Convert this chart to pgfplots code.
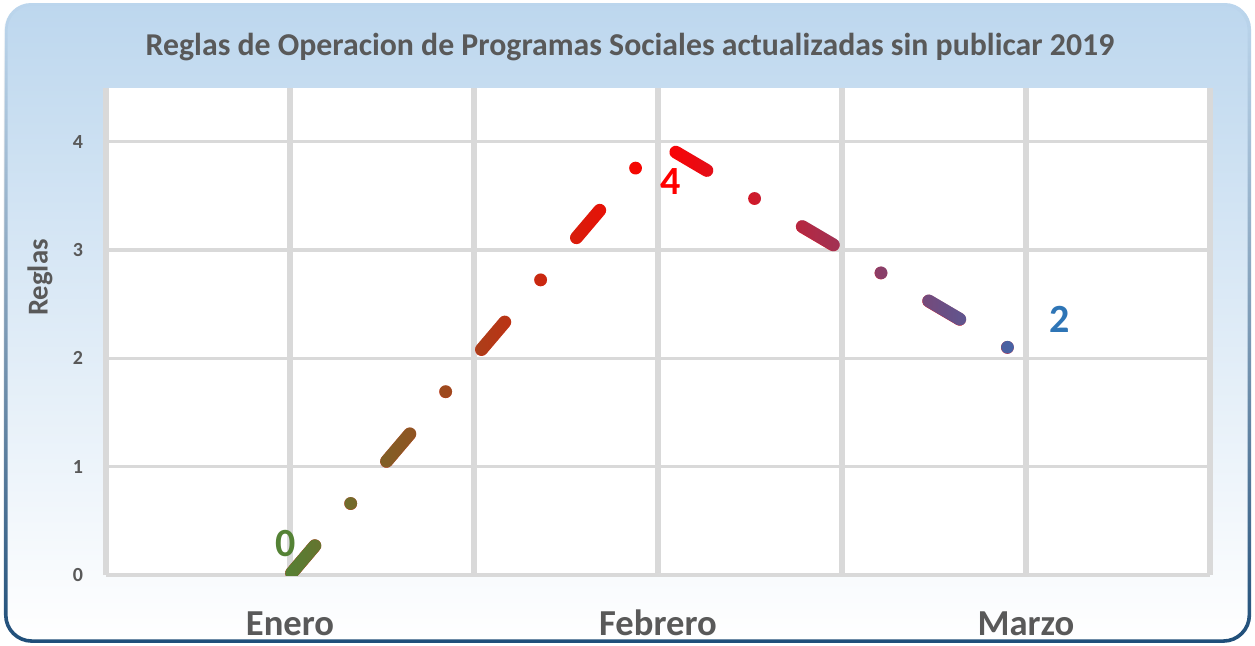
\documentclass[border=0pt]{standalone}
\usepackage{fontspec}
\setmainfont{Carlito}
\usepackage{pgfplots}
\pgfplotsset{compat=1.18}
\usetikzlibrary{fadings}

\definecolor{txt}{HTML}{595959}
\definecolor{gridc}{HTML}{D9D9D9}
\definecolor{bgblue}{HTML}{BDD7EE}
\definecolor{frame}{HTML}{1F4E79}
\definecolor{cG}{HTML}{548235}
\definecolor{cR}{HTML}{FF0000}
\definecolor{cB}{HTML}{3C69AF}
\definecolor{lblB}{HTML}{2E75B6}

% colour ramp along the line: green -> red -> blue
\tikzfading[name=fadeG, left color=transparent!0, right color=transparent!100, middle color=transparent!100]
\tikzfading[name=fadeB, left color=transparent!100, right color=transparent!0, middle color=transparent!100]
\tikzfading[name=fadeFrame, top color=transparent!100, bottom color=transparent!0]

\pgfplotsset{
  dashdot/.style={line width=6.4pt, line cap=round, line join=round,
    dash pattern=on 18pt off 27.675pt on 0pt off 27.675pt, dash phase=72.15pt},
}

\begin{document}
\begin{tikzpicture}
\useasboundingbox (-53pt,-35pt) rectangle (574.5pt,287.5pt);
\shade[top color=bgblue, bottom color=white, rounded corners=13pt]
  (-50.5pt,-33.5pt) rectangle (572.5pt,286pt);
\draw[frame, line width=1.8pt, rounded corners=13pt, path fading=fadeFrame]
  (-50pt,-33pt) rectangle (572pt,285.5pt);

\begin{axis}[
    at={(0,0)}, anchor=south west,
    scale only axis, width=552pt, height=243.75pt,
    xmin=-0.5, xmax=2.5, ymin=0, ymax=4.5,
    xtick={-0.5,0,0.5,1,1.5,2,2.5},
    xticklabels={,Enero,,Febrero,,Marzo,},
    ytick={0,1,2,3,4},
    xmajorgrids, ymajorgrids,
    major x grid style={gridc, line width=3pt},
    major y grid style={gridc, line width=1.6pt},
    axis line style={draw=none},
    major tick length=0pt,
    axis background/.style={fill=white},
    /pgf/number format/assume math mode=true,
    yticklabel style={font=\bfseries\fontsize{10}{12}\selectfont, text=txt, anchor=east, xshift=-8pt},
    xticklabel style={font=\bfseries\fontsize{18.3}{21}\selectfont, text=txt, anchor=base, yshift=-30pt},
    title={Reglas de Operacion de Programas Sociales actualizadas sin publicar 2019},
    title style={font=\bfseries\fontsize{15.9}{18}\selectfont, text=txt,
      at={(axis description cs:0.4746,1.058)}, anchor=center, yshift=0pt},
    ylabel={Reglas},
    ylabel style={font=\bfseries\fontsize{14.4}{16}\selectfont, text=txt,
      at={(axis description cs:-0.0598,0.61)}, anchor=center},
]
\addplot[cR, dashdot] coordinates {(0,0) (1,4) (2,2)};
\addplot[cG, dashdot, path fading=fadeG] coordinates {(0,0) (1,4) (2,2)};
\addplot[cB, dashdot, path fading=fadeB] coordinates {(0,0) (1,4) (2,2)};

\node[text=cG, font=\bfseries\fontsize{20}{24}\selectfont] at (axis cs:-0.011,0.29) {0};
\node[text=cR, font=\bfseries\fontsize{20}{24}\selectfont] at (axis cs:1.033,3.63) {4};
\node[text=lblB, font=\bfseries\fontsize{20}{24}\selectfont] at (axis cs:2.092,2.36) {2};
\end{axis}
\end{tikzpicture}
\end{document}
